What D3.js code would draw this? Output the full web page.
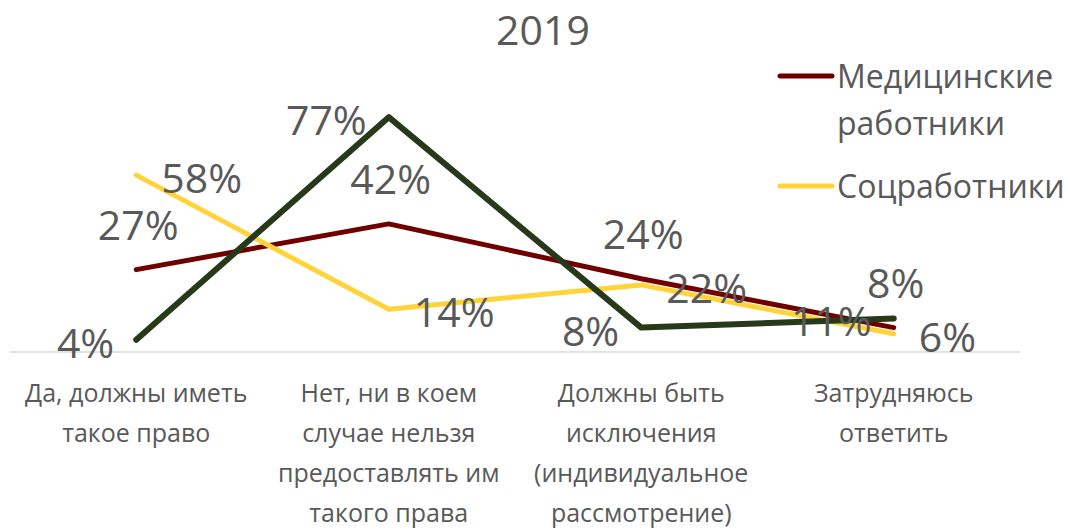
<!DOCTYPE html>
<html>
<head>
<meta charset="utf-8">
<script src="https://cdn.jsdelivr.net/npm/d3@7"></script>
<style>
  body { margin: 0; background: #fff; }
  text { font-family: "Open Sans", "Noto Sans", sans-serif; fill: #595959; }
</style>
</head>
<body>
<div id="chart"></div>
<script>
// Данные (значения в процентах)
const categories = [
  ["Да, должны иметь", "такое право"],
  ["Нет, ни в коем", "случае нельзя", "предоставлять им", "такого права"],
  ["Должны быть", "исключения", "(индивидуальное", "рассмотрение)"],
  ["Затрудняюсь", "ответить"]
];
const medValues = [27, 42, 24, 8];
const socValues = [58, 14, 22, 6];
const thirdValues = [4, 77, 8, 11];

const series = [
  { name: "Медицинские работники", values: medValues, color: "#700000", width: 5, pos: "above", legend: ["Медицинские", "работники"] },
  { name: "Соцработники", values: socValues, color: "#FFD43B", width: 5, pos: "right", legend: ["Соцработники"] },
  { name: "Другие", values: thirdValues, color: "#28391A", width: 6, pos: "left", legend: null }
];

const W = 1066, H = 529;
const svg = d3.select("#chart").append("svg")
  .attr("width", W).attr("height", H);

const idx = d3.range(categories.length);
const x = d3.scalePoint().domain(idx).range([10, 1020]).padding(0.5);
const y = d3.scaleLinear().domain([0, 80]).range([352, 108]);

// Заголовок
svg.append("text")
  .attr("x", 543).attr("y", 45)
  .attr("text-anchor", "middle")
  .style("font-size", "41px")
  .text("2019");

// Ось X
svg.append("line")
  .attr("x1", 10).attr("x2", 1020)
  .attr("y1", y(0)).attr("y2", y(0))
  .attr("stroke", "#d9d9d9").attr("stroke-width", 1.5);

// Подписи категорий
const cat = svg.append("g").selectAll("text")
  .data(categories).enter().append("text")
  .attr("text-anchor", "middle")
  .style("font-size", "25px")
  .attr("transform", (d, i) => `translate(${x(i)},0)`);
cat.selectAll("tspan")
  .data(d => d).enter().append("tspan")
  .attr("x", 0)
  .attr("y", (d, j) => 402 + j * 40)
  .text(d => d);

// Линии
const line = d3.line()
  .x((d, i) => x(i))
  .y(d => y(d));

series.forEach(s => {
  svg.append("path")
    .datum(s.values)
    .attr("d", line)
    .attr("fill", "none")
    .attr("stroke", s.color)
    .attr("stroke-width", s.width)
    .attr("stroke-linecap", "round")
    .attr("stroke-linejoin", "round");
});

// Подписи значений
series.forEach(s => {
  svg.append("g").selectAll("text")
    .data(s.values).enter().append("text")
    .style("font-size", "41px")
    .attr("text-anchor", s.pos === "above" ? "middle" : s.pos === "right" ? "start" : "end")
    .attr("x", (d, i) => s.pos === "above" ? x(i) + 2 : s.pos === "right" ? x(i) + 25 : x(i) - 22)
    .attr("y", (d, i) => s.pos === "above" ? y(d) - 30 : y(d) + 18)
    .text(d => d + "%");
});

// Легенда
const legend = svg.append("g");
let ly = 76;
series.filter(s => s.legend).forEach(s => {
  legend.append("line")
    .attr("x1", 780).attr("x2", 832)
    .attr("y1", ly).attr("y2", ly)
    .attr("stroke", s.color).attr("stroke-width", 5)
    .attr("stroke-linecap", "round");
  s.legend.forEach((t, j) => {
    legend.append("text")
      .attr("x", 837).attr("y", ly + 12 + j * 47)
      .style("font-size", "32px")
      .text(t);
  });
  ly += 110;
});
</script>
</body>
</html>
